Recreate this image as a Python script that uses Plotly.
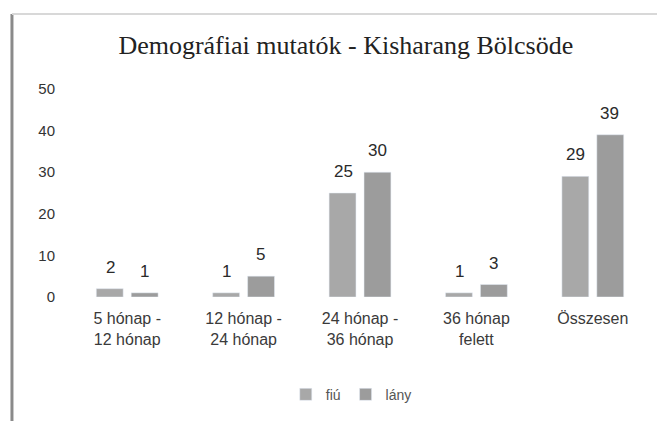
import plotly.graph_objects as go

categories = ["5 hónap -<br>12 hónap", "12 hónap -<br>24 hónap", "24 hónap -<br>36 hónap",
              "36 hónap<br>felett", "Összesen"]
fiu = [2, 1, 25, 1, 29]
lany = [1, 5, 30, 3, 39]
y_ticks = [0, 10, 20, 30, 40, 50]

fig = go.Figure()
fig.add_trace(go.Bar(name="fiú", x=categories, y=fiu, marker_color="#a8a8a8"))
fig.add_trace(go.Bar(name="lány", x=categories, y=lany, marker_color="#9c9c9c"))

# value labels sit well above the bars in the original, so use annotations
label_font = dict(family="Liberation Sans, Arial", size=17, color="#2a2a2a")
annotations = []
for cat, v in zip(categories, fiu):
    annotations.append(dict(x=cat, y=v, text=str(v), showarrow=False, xshift=-17,
                            yshift=10, yanchor="bottom", font=label_font))
for cat, v in zip(categories, lany):
    annotations.append(dict(x=cat, y=v, text=str(v), showarrow=False, xshift=17,
                            yshift=10, yanchor="bottom", font=label_font))

fig.update_layout(
    width=665, height=421,
    margin=dict(l=61, r=22, t=81, b=132),
    paper_bgcolor="white", plot_bgcolor="white",
    barmode="group", bargap=0.4, bargroupgap=0.23,
    font=dict(family="Liberation Sans, Arial", color="#333333"),
    title=dict(text="Demográfiai mutatók - Kisharang Bölcsöde",
               font=dict(family="Liberation Serif, Times New Roman", size=26, color="#222222"),
               x=0.508, xanchor="center", y=1 - 37 / 421, yanchor="middle"),
    xaxis=dict(showline=False, showgrid=False, ticks="", ticklabelstandoff=10,
               tickfont=dict(size=16, color="#3a3a3a")),
    yaxis=dict(range=[0, 50], tickvals=y_ticks, showgrid=False, showline=False,
               zeroline=False, ticklabelstandoff=13,
               tickfont=dict(size=15, color="#333333")),
    showlegend=True,
    legend=dict(orientation="h", x=0.485, xanchor="center", y=-0.47, yanchor="middle",
                font=dict(size=14, color="#555555"), itemwidth=30),
    annotations=annotations,
    shapes=[
        dict(type="line", xref="paper", yref="paper", x0=-0.098, x1=-0.098, y0=1.36, y1=-0.7,
             line=dict(color="#8a8a8a", width=3)),
        dict(type="line", xref="paper", yref="paper", x0=-0.098, x1=1.1, y0=1.36, y1=1.36,
             line=dict(color="#d8d8d8", width=2)),
    ],
)

fig.write_html("out.html")
